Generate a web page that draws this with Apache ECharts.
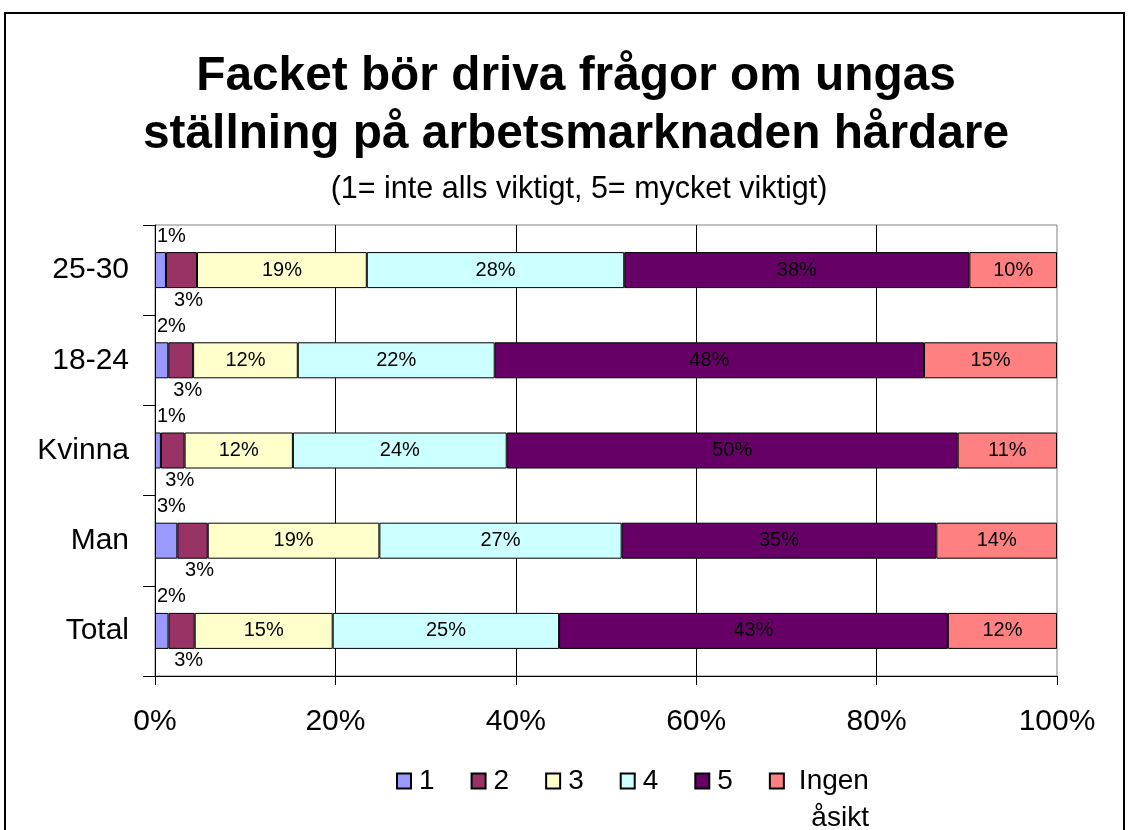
<!DOCTYPE html>
<html><head><meta charset="utf-8">
<script src="https://cdn.jsdelivr.net/npm/echarts@6/dist/echarts.min.js"></script>
<style>html,body{margin:0;padding:0;background:#fff}#c{width:1129px;height:830px}</style>
</head><body><div id="c"></div>
<script>
// Data (bottom to top on the chart)
const categories = ['Total', 'Man', 'Kvinna', '18-24', '25-30'];
const seriesNames = ['1', '2', '3', '4', '5', 'Ingen åsikt'];
const v1 = [1.5, 2.5, 0.66, 1.5, 1.2];
const v2 = [2.9, 3.4, 2.65, 2.8, 3.4];
const v3 = [15.3, 19.2, 12.1, 11.8, 18.6];
const v4 = [25.1, 27.1, 23.9, 22.2, 28.2];
const v5 = [43.1, 35.2, 50.4, 48.4, 37.8];
const v6 = [12.1, 13.5, 11.1, 15.0, 9.6];
const xTickLabels = ['0%', '20%', '40%', '60%', '80%', '100%'];
const titleText = 'Facket bör driva frågor om ungas\nställning på arbetsmarknaden hårdare';
const subtitleText = '(1= inte alls viktigt, 5= mycket viktigt)';

const colors = ['#9999FF', '#993366', '#FFFFCC', '#CCFFFF', '#660066', '#FF8080'];
const raw = [v1, v2, v3, v4, v5, v6];
const totals = categories.map((c, i) => raw.reduce((s, arr) => s + arr[i], 0));
const FONT = '"Liberation Sans", Arial, sans-serif';

const labelCfg = (si) => {
  const base = {
    show: true, color: '#000', fontSize: 20, fontFamily: FONT,
    formatter: p => Math.round(raw[si][p.dataIndex]) + '%'
  };
  if (si === 0) return Object.assign(base, {position: [2, -6], align: 'left', verticalAlign: 'bottom'});
  if (si === 1) return Object.assign(base, {position: ['50%', '100%'], align: 'center', verticalAlign: 'top', offset: [7, 2]});
  return Object.assign(base, {position: 'inside'});
};

const series = seriesNames.map((name, si) => ({
  name, type: 'bar', stack: 'all', barWidth: 36,
  itemStyle: {color: colors[si], borderColor: '#000', borderWidth: 1},
  label: labelCfg(si),
  emphasis: {disabled: true},
  data: raw[si].map((v, i) => v / totals[i] * 100)
}));

const chart = echarts.init(document.getElementById('c'), null, {renderer: 'canvas'});
chart.setOption({
  animation: false,
  backgroundColor: '#fff',
  textStyle: {fontFamily: FONT},
  title: [
    {text: titleText, left: 576, top: 48, textAlign: 'center', padding: 0,
     textStyle: {fontSize: 47.8, fontWeight: 'bold', color: '#000', lineHeight: 58, fontFamily: FONT}},
    {text: subtitleText, left: 579, top: 174, textAlign: 'center', padding: 0,
     textStyle: {fontSize: 30.5, fontWeight: 'normal', color: '#000', lineHeight: 32, fontFamily: FONT}}
  ],
  graphic: [{
    type: 'rect', shape: {x: 5, y: 13, width: 1119, height: 840}, silent: true,
    style: {fill: 'none', stroke: '#000', lineWidth: 2}, z: 100
  }],
  grid: {left: 155, right: 72, top: 225, bottom: 154, show: true, borderColor: '#808080', borderWidth: 1},
  xAxis: {
    type: 'value', min: 0, max: 100, interval: 20,
    axisLine: {show: true, lineStyle: {color: '#000', width: 1}},
    axisTick: {show: true, length: 9, lineStyle: {color: '#000'}},
    axisLabel: {fontSize: 30, color: '#000', margin: 31, fontFamily: FONT,
      formatter: v => xTickLabels[Math.round(v / 20)]},
    splitLine: {show: true, showMinLine: false, showMaxLine: false, lineStyle: {color: '#000', width: 1}}
  },
  yAxis: {
    type: 'category', data: categories,
    axisLine: {show: true, lineStyle: {color: '#000', width: 1}},
    axisTick: {show: true, length: 12, lineStyle: {color: '#000'}},
    axisLabel: {fontSize: 30, color: '#000', margin: 26, fontFamily: FONT},
    splitLine: {show: false}
  },
  legend: {
    left: 396, top: 767, padding: 0, itemGap: 36, itemWidth: 14, itemHeight: 15,
    icon: 'rect', selectedMode: false,
    textStyle: {fontSize: 28, color: '#000', fontFamily: FONT, padding: [0, 0, 0, 3],
      rich: {a: {align: 'right', fontSize: 28, lineHeight: 37, color: '#000', fontFamily: FONT}}},
    formatter: n => n === 'Ingen åsikt' ? '{a|Ingen}\n{a|åsikt}' : n,
    data: seriesNames.map(n => n === 'Ingen åsikt'
      ? {name: n, textStyle: {padding: [37, 0, 0, 10]}}
      : {name: n})
  },
  series
});
</script></body></html>
